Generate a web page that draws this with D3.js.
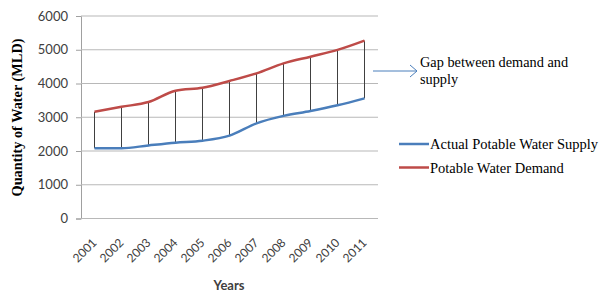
<!DOCTYPE html>
<html><head><meta charset="utf-8">
<script src="https://cdn.jsdelivr.net/npm/d3@7"></script>
<style>body{margin:0;background:#fff}svg{display:block}</style>
</head><body>
<svg id="c" width="609" height="296"></svg>
<script>
const years = ["2001","2002","2003","2004","2005","2006","2007","2008","2009","2010","2011"];
const supply = [2080,2080,2165,2245,2305,2455,2820,3040,3185,3355,3560];
const demand = [3160,3310,3450,3785,3875,4075,4300,4595,4795,4995,5270];
const yTicks = [0,1000,2000,3000,4000,5000,6000];
const seriesNames = ["Actual Potable Water Supply","Potable Water Demand"];
const seriesColors = ["#4a7ebb","#be4b48"];
const annotation = ["Gap between demand and","supply"];

const svg = d3.select("#c");
const m = {l:81, r:378, t:16, b:218.5};
const x = d3.scalePoint().domain(years).range([m.l, m.r]).padding(0.5);
const y = d3.scaleLinear().domain([0,6000]).range([m.b, m.t]);

const yAx = svg.append("g").attr("transform",`translate(${m.l},0)`)
  .call(d3.axisLeft(y).tickValues(yTicks).tickSize(5).tickPadding(8).tickFormat(d3.format("d")));
yAx.select(".domain").attr("stroke","#a0a0a0");
yAx.selectAll(".tick line").attr("stroke","#a0a0a0");
yAx.selectAll(".tick text").attr("fill","#404040").style("font-family","Lato, 'Open Sans', sans-serif").style("font-size","13px");
svg.append("g").selectAll("line").data(yTicks).join("line")
  .attr("x1",m.l).attr("x2",m.r).attr("y1",d=>y(d)).attr("y2",d=>y(d))
  .attr("stroke","#b8b8b8").attr("stroke-width",1.2);

svg.append("g").selectAll("text").data(years).join("text")
  .attr("transform",d=>`translate(${x(d)+3},${m.b+25}) rotate(-45)`)
  .attr("text-anchor","end").attr("fill","#404040")
  .style("font-family","Lato, 'Open Sans', sans-serif").style("font-size","12px")
  .text(d=>d);

svg.append("g").selectAll("line").data(years).join("line")
  .attr("x1",d=>x(d)).attr("x2",d=>x(d))
  .attr("y1",(d,i)=>y(demand[i])).attr("y2",(d,i)=>y(supply[i]))
  .attr("stroke","#404040").attr("stroke-width",1);

const line = d3.line().x((d,i)=>x(years[i])).y(d=>y(d)).curve(d3.curveMonotoneX);
[supply,demand].forEach((s,k)=>{
  svg.append("path").attr("d",line(s)).attr("fill","none")
    .attr("stroke",seriesColors[k]).attr("stroke-width",2.5).attr("stroke-linejoin","round");
});

svg.append("text").attr("transform",`translate(22,117.5) rotate(-90)`).attr("text-anchor","middle")
  .style("font-family","'Liberation Serif', serif").style("font-weight","bold").style("font-size","14.3px")
  .attr("fill","#000").text("Quantity of Water (MLD)");
svg.append("text").attr("x",229).attr("y",290).attr("text-anchor","middle")
  .style("font-family","Lato, 'Open Sans', sans-serif").style("font-weight","bold").style("font-size","13px")
  .attr("fill","#404040").text("Years");

const lg = svg.append("g");
seriesNames.forEach((n,k)=>{
  const yy = 144 + k*23.5;
  lg.append("line").attr("x1",399).attr("x2",429).attr("y1",yy).attr("y2",yy)
    .attr("stroke",seriesColors[k]).attr("stroke-width",2.5);
  lg.append("text").attr("x",430).attr("y",yy+5)
    .style("font-family","'Liberation Serif', serif").style("font-size","14.5px").attr("fill","#000").text(n);
});

const ag = svg.append("g").attr("stroke","#4a7ebb").attr("fill","none").attr("stroke-width",1);
ag.append("line").attr("x1",373).attr("x2",417).attr("y1",71).attr("y2",71);
ag.append("path").attr("d","M410,65 L417,71 L410,77");
annotation.forEach((t,i)=>{
  svg.append("text").attr("x",420).attr("y",67+i*16.5)
    .style("font-family","'Liberation Serif', serif").style("font-size","14.3px").attr("fill","#000").text(t);
});
</script>
</body></html>
